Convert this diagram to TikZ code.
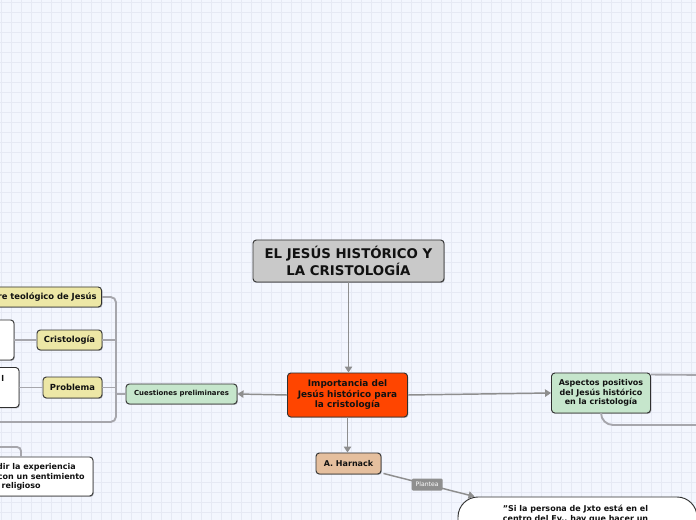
\documentclass[tikz,border=0pt]{standalone}
\usepackage{fontspec}
\setmainfont{DejaVu Sans}
\usetikzlibrary{arrows.meta,shadows,calc}
\definecolor{bg}{HTML}{F3F6FE}
\definecolor{gridc}{HTML}{E6E9F4}
\definecolor{titlec}{HTML}{C9C9C9}
\definecolor{impc}{HTML}{FF4500}
\definecolor{greenc}{HTML}{C6E6CC}
\definecolor{khakic}{HTML}{EDE7A6}
\definecolor{tanc}{HTML}{E5BF9E}
\definecolor{boxline}{HTML}{303030}
\definecolor{txt}{HTML}{111111}
\definecolor{linec}{HTML}{8E8E8E}
\definecolor{linec2}{HTML}{A6A6AC}
\definecolor{labc}{HTML}{8F8F8F}
\begin{document}
\begin{tikzpicture}[x=0.75pt,y=-0.75pt,
  box/.style={draw=boxline, rounded corners=2.5pt, line width=0.7pt, inner sep=0pt,
    align=center, text=txt,
    drop shadow={shadow xshift=0.6pt, shadow yshift=-0.7pt, opacity=0.25, fill=black}},
  conn/.style={draw=linec, line width=1.1pt, -{Triangle[width=5.5pt,length=4.5pt]}},
  plain/.style={draw=linec2, line width=1.4pt},
  fA/.style={font=\fontsize{10}{10.5}\selectfont\bfseries},
  fB/.style={font=\fontsize{6.7}{7.9}\selectfont\bfseries},
  fC/.style={font=\fontsize{6}{7.1}\selectfont\bfseries},
  fK/.style={font=\fontsize{6.3}{7.1}\selectfont\bfseries},
  fD/.style={font=\fontsize{5.2}{6}\selectfont\bfseries},
  lab/.style={fill=labc, text=white, rounded corners=1pt, inner sep=0pt,
    minimum width=23.25pt, minimum height=9pt, font=\fontsize{4.6}{5}\selectfont},
]
\fill[bg] (0,0) rectangle (696,520);
\useasboundingbox (0,0) rectangle (696,520);
\foreach \x in {1,11,...,691} \draw[gridc, line width=0.7pt] (\x,0) -- (\x,520);
\foreach \y in {2,12,...,512} \draw[gridc, line width=0.7pt] (0,\y) -- (696,\y);

% main nodes
\node[box, fA, fill=titlec, minimum width=143.25pt, minimum height=31.5pt] (title) at (348.5,261) {EL JESÚS HISTÓRICO Y\\LA CRISTOLOGÍA};
\node[box, fB, fill=impc, minimum width=90pt, minimum height=33pt] (imp) at (347.5,395) {Importancia del\\Jesús histórico para\\la cristología};
\node[box, fD, fill=greenc, minimum width=83.25pt, minimum height=15pt] (cues) at (181.5,394) {Cuestiones preliminares};
\node[box, fC, fill=greenc, minimum width=74.25pt, minimum height=30pt] (asp) at (601,393) {Aspectos positivos\\del Jesús histórico\\en la cristología};
\node[box, fC, fill=tanc, minimum width=48.75pt, minimum height=15.75pt] (harn) at (348.5,463.5) {A. Harnack};
\node[box, fill=white, rounded corners=15pt, minimum width=179.25pt, minimum height=47.25pt] (quote) at (577.5,528.5) {};
\node[fC, text=txt, align=center] (quotetxt) at (575.5,514) {"Si la persona de Jxto está en el\\centro del Ev., hay que hacer un};

% left nodes
\node[box, fK, fill=khakic, anchor=east, minimum height=15pt, inner xsep=3.75pt] (kh1) at (102,297) {re teológico de Jesús};
\node[box, fK, fill=khakic, minimum width=48.75pt, minimum height=15pt] (cristo) at (69.5,340) {Cristología};
\node[box, fK, fill=khakic, minimum width=44.25pt, minimum height=15.75pt] (prob) at (72.5,387.5) {Problema};
\node[box, fill=white, minimum width=25.5pt, minimum height=30pt] (wb1) at (-3,340) {};
\node[box, fill=white, minimum width=29.25pt, minimum height=30pt] (wb2) at (-0.5,387.5) {};
\node[fC, text=txt, anchor=east, inner sep=0pt] (wb2t) at (4.5,378) {l};
\node[box, fill=white, minimum width=108pt, minimum height=29.25pt] (wb3) at (21,476.5) {};
\node[fC, text=txt, anchor=east, inner sep=0pt] (wb3a) at (76,467) {dir la experiencia};
\node[fC, text=txt, anchor=east, inner sep=0pt] (wb3b) at (85,477) {con un sentimiento};
\node[fC, text=txt, anchor=east, inner sep=0pt] (wb3c) at (41,486.5) {religioso};

\coordinate (bk) at (116,422);
\coordinate (offl) at (-10,422);
\coordinate (offl2) at (-10,447);
\coordinate (offr1) at (710,375);
\coordinate (offr2) at (710,425);

% connectors
\draw[conn] (title.south) -- (title.south |- imp.north);
\draw[conn] (imp.west) -- (cues.east);
\draw[conn] (imp.east) -- (asp.west);
\draw[conn] (imp.south) -- (imp.south |- harn.north);
\draw[conn] ($(harn.south east)+(2,-1)$) -- node[lab, pos=0.48] (plt) {Plantea} ($(quote.north west)+(17,0)$);

\draw[plain, rounded corners=4pt] (kh1.east) -| (bk) -- (offl);
\draw[plain] (cristo.east) -- (cristo.east -| bk);
\draw[plain] (prob.east) -- (prob.east -| bk);
\draw[plain] (cues.west) -- (cues.west -| bk);
\draw[plain] (cristo.west) -- (wb1.east);
\draw[plain] (prob.west) -- (wb2.east);
\draw[plain, rounded corners=3pt] (offl2) -| (wb3.north);
\draw[plain] ($(asp.north east)+(0,2)$) -- (offr1);
\draw[plain, rounded corners=9pt] (asp.south) |- (offr2);
\end{tikzpicture}
\end{document}
